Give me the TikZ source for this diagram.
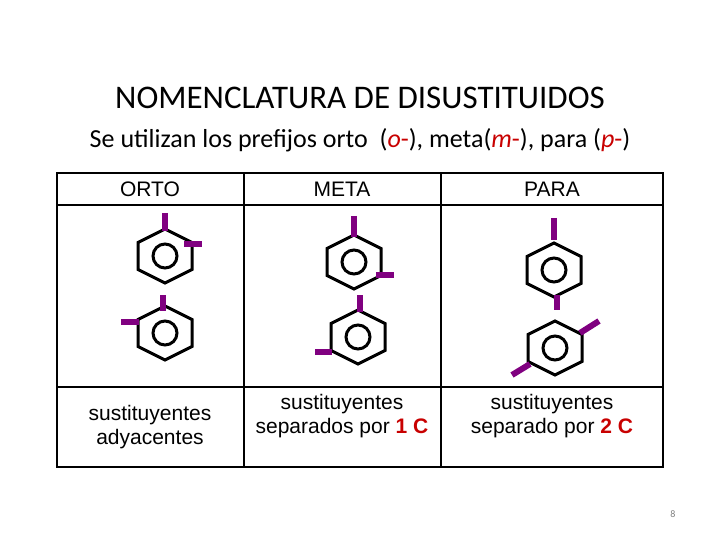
\documentclass[tikz,border=0pt]{standalone}
\usepackage{fontspec}
\setmainfont{Carlito}
\newfontfamily\arialf{Liberation Sans}
\definecolor{sub}{RGB}{128,0,128}
\definecolor{rd}{RGB}{200,0,0}
\begin{document}
\begin{tikzpicture}[x=1pt,y=-1pt,
  ring/.style={line width=3pt,line join=miter,black},
  subst/.style={line width=6pt,sub},
  cell/.style={font=\arialf\fontsize{21}{24}\selectfont,align=center},
  grid/.style={line width=1.5pt}]
\useasboundingbox (0,0) rectangle (720,540);
\node (title) at (360,98) {\fontsize{33}{36}\selectfont NOMENCLATURA DE DISUSTITUIDOS};
\node (subt) at (360,140) {\fontsize{26}{29}\selectfont Se utilizan los prefijos orto\ \ (\textcolor{rd}{\textit{o}-}), meta(\textcolor{rd}{\textit{m}-}), para (\textcolor{rd}{\textit{p}-})};
% table
\draw[grid] (57,173) rectangle (663,467);
\draw[grid] (57,205) -- (663,205) (57,387) -- (663,387) (244,173) -- (244,467) (441,173) -- (441,467);
\node[cell] (h1) at (150,189) {ORTO};
\node[cell] (h2) at (342,189) {META};
\node[cell] (h3) at (552,189) {PARA};
\node[cell] (f1) at (150,427) {sustituyentes\\adyacentes};
\node[cell] (f2) at (342,416) {sustituyentes\\separados por \textcolor{rd}{\textbf{1 C}}};
\node[cell] (f3) at (552,416) {sustituyentes\\separado por \textcolor{rd}{\textbf{2 C}}};
\newcommand{\benz}[2]{%
  \draw[ring] (#1,#2-27) -- (#1+27,#2-13.5) -- (#1+27,#2+13.5) -- (#1,#2+27) -- (#1-27,#2+13.5) -- (#1-27,#2-13.5) -- cycle;
  \draw[ring] (#1,#2) circle[radius=12];}
% ORTO
\benz{165}{256}
\draw[subst] (165,213) -- (165,231);
\draw[subst] (184,244) -- (202,244);
\benz{165}{333}
\draw[subst] (163,295) -- (163,311);
\draw[subst] (121,322) -- (139,322);
% META
\benz{354}{262}
\draw[subst] (354,216) -- (354,237);
\draw[subst] (376,275) -- (394,275);
\benz{358}{337}
\draw[subst] (360,295) -- (360,312);
\draw[subst] (315,352) -- (332,352);
% PARA
\benz{554}{270}
\draw[subst] (554,218) -- (554,240);
\draw[subst] (557,295) -- (557,310);
\benz{555}{348}
\draw[subst] (580,333) -- (599,321);
\draw[subst] (512,375) -- (530,364);
\node[text=gray] (pg) at (673,514) {\fontsize{10}{12}\selectfont 8};
\end{tikzpicture}
\end{document}
